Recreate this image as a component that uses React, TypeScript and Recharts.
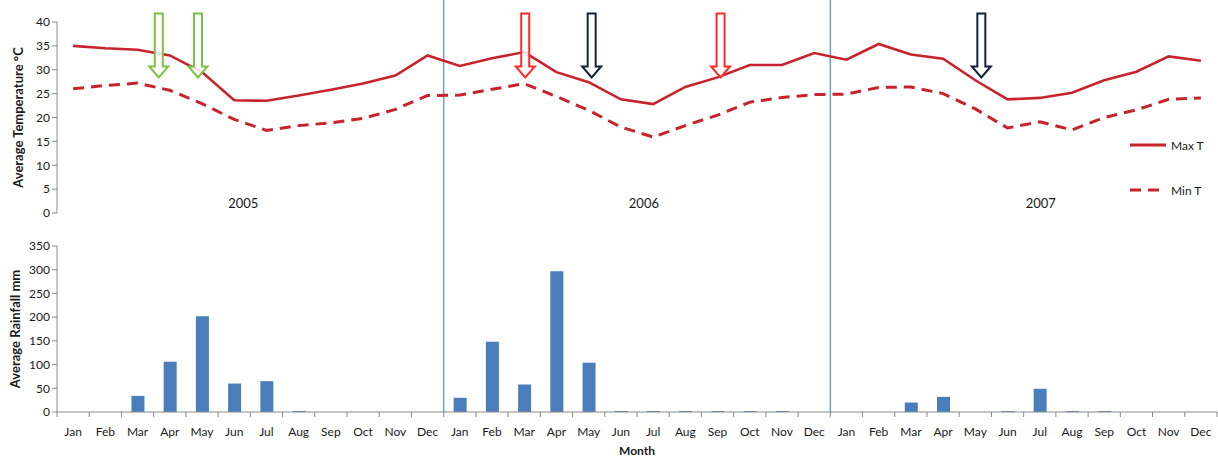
import React from 'react';
import { ComposedChart, Line, Bar, XAxis, YAxis, ReferenceLine, ReferenceDot, Legend } from 'recharts';

const MONTHS = ['Jan', 'Feb', 'Mar', 'Apr', 'May', 'Jun', 'Jul', 'Aug', 'Sep', 'Oct', 'Nov', 'Dec'];
const YEARS = ['2005', '2006', '2007'];

const MAX_T_2005 = [35, 34.5, 34.2, 33, 29.5, 23.6, 23.5, 24.6, 25.8, 27.1, 28.8, 33];
const MIN_T_2005 = [26, 26.7, 27.2, 25.7, 22.9, 19.6, 17.3, 18.3, 18.9, 19.8, 21.7, 24.6];
const MAX_T_2006 = [30.8, 32.4, 33.7, 29.5, 27.4, 23.8, 22.8, 26.4, 28.4, 31, 31, 33.5];
const MIN_T_2006 = [24.7, 25.9, 27.1, 24.4, 21.5, 18, 15.9, 18.3, 20.5, 23.2, 24.2, 24.8];
const MAX_T_2007 = [32.1, 35.4, 33.2, 32.3, 27.8, 23.8, 24.1, 25.2, 27.8, 29.6, 32.8, 31.9];
const MIN_T_2007 = [24.9, 26.3, 26.4, 25, 21.8, 17.8, 19.1, 17.4, 20, 21.6, 23.8, 24.1];

const RAIN_2005 = [0, 0, 34, 106, 202, 60, 65, 2, 0, 0, 0, 0];
const RAIN_2006 = [30, 148, 58, 297, 104, 2, 2, 2, 2, 2, 2, 0];
const RAIN_2007 = [0, 0, 20, 32, 0, 2, 49, 2, 2, 0, 0, 0];

const TEMP_TICKS = [0, 5, 10, 15, 20, 25, 30, 35, 40];
const RAIN_TICKS = [0, 50, 100, 150, 200, 250, 300, 350];

const MAX_T = [MAX_T_2005, MAX_T_2006, MAX_T_2007];
const MIN_T = [MIN_T_2005, MIN_T_2006, MIN_T_2007];
const RAIN = [RAIN_2005, RAIN_2006, RAIN_2007];

const data = YEARS.flatMap((y, yi) =>
  MONTHS.map((m, mi) => ({
    key: `${y}-${m}`,
    month: m,
    maxT: MAX_T[yi][mi],
    minT: MIN_T[yi][mi],
    rain: RAIN[yi][mi],
  }))
);

const YEAR_STARTS = ['2006-Jan', '2007-Jan'];

const GREEN = '#7dc142';
const RED_ARROW = '#ff2b2b';
const NAVY = '#13213d';
const LINE_RED = '#c8232c';
const BAR_BLUE = '#4a7ebb';
const DIVIDER = '#6d9edb';
const AXIS = '#8a8a8a';
const TEXT = '#1a1a1a';

const ARROWS = [
  { at: '2005-Apr', shift: -11, color: GREEN },
  { at: '2005-May', shift: -4, color: GREEN },
  { at: '2006-Mar', shift: 1, color: RED_ARROW },
  { at: '2006-May', shift: 3, color: NAVY },
  { at: '2006-Sep', shift: 3, color: RED_ARROW },
  { at: '2007-May', shift: 6, color: NAVY },
];
const ARROW_TIP = 28.4;

const YEAR_LABELS = [
  { at: '2005-Jun', shift: 9, text: '2005' },
  { at: '2006-Jun', shift: 23, text: '2006' },
  { at: '2007-Jul', shift: 1, text: '2007' },
];
const YEAR_LABEL_Y = 2.1;

const SERIES = [
  { key: 'maxT', name: 'Max T', dash: undefined as string | undefined },
  { key: 'minT', name: 'Min T', dash: '11 7' },
];

const RotLabel = (props: any) => {
  const { viewBox, text, dx = 0 } = props;
  const cx = viewBox.x + dx;
  const cy = viewBox.y + viewBox.height / 2;
  return (
    <text
      x={cx}
      y={cy}
      transform={`rotate(-90 ${cx} ${cy})`}
      textAnchor="middle"
      dominantBaseline="central"
      fontSize={13}
      fontWeight="bold"
      fill={TEXT}
    >
      {text}
    </text>
  );
};

const MonthLabel = (props: any) => {
  const { viewBox } = props;
  return (
    <text
      x={viewBox.x + viewBox.width / 2}
      y={viewBox.y + 43}
      textAnchor="middle"
      fontSize={12}
      fontWeight="bold"
      fill={TEXT}
    >
      Month
    </text>
  );
};

const MonthTick = (props: any) => {
  const { x, y, payload, index } = props;
  const half = payload && payload.offset ? payload.offset : 16.1;
  const month = String(payload.value).split('-')[1];
  return (
    <g>
      <line x1={x - half} y1={y} x2={x - half} y2={y + 5} stroke={AXIS} strokeWidth={1} />
      {index === data.length - 1 && (
        <line x1={x + half} y1={y} x2={x + half} y2={y + 5} stroke={AXIS} strokeWidth={1} />
      )}
      <text x={x} y={y + 24} textAnchor="middle" fontSize={12} fill={TEXT}>
        {month}
      </text>
    </g>
  );
};

const arrowShape = (color: string, shift: number) => (props: any) => {
  const cx = props.cx + shift;
  const cy = props.cy;
  const sw = 4;
  const hw = 9.5;
  const hh = 11;
  const len = 64;
  const d = `M${cx - sw},${cy - len} L${cx + sw},${cy - len} L${cx + sw},${cy - hh} L${cx + hw},${cy - hh} L${cx},${cy} L${cx - hw},${cy - hh} L${cx - sw},${cy - hh} Z`;
  return <path d={d} fill="#ffffff" fillOpacity={0.85} stroke={color} strokeWidth={2} strokeLinejoin="miter" />;
};

const yearShape = (text: string, shift: number) => (props: any) => (
  <text x={props.cx + shift} y={props.cy} textAnchor="middle" dominantBaseline="central" fontSize={13} fill={TEXT}>
    {text}
  </text>
);

const LegendContent = (props: any) => {
  const payload = props.payload || [];
  return (
    <div>
      {payload.map((entry: any, i: number) => {
        const s = SERIES.find((k) => k.key === entry.dataKey) || SERIES[i];
        return (
          <div key={i} style={{ display: 'flex', alignItems: 'center', height: 22, marginBottom: i === 0 ? 23 : 0 }}>
            <svg width={40} height={10} style={{ display: 'block' }}>
              <line x1={2} y1={5} x2={38} y2={5} stroke={LINE_RED} strokeWidth={3} strokeDasharray={s.dash} />
            </svg>
            <span style={{ fontSize: 12, color: TEXT, marginLeft: 3 }}>{entry.value}</span>
          </div>
        );
      })}
    </div>
  );
};

export default function App() {
  return (
    <div
      style={{
        position: 'absolute',
        left: 0,
        top: 0,
        width: 1218,
        height: 457,
        background: '#ffffff',
        fontFamily: "Lato, 'Open Sans', sans-serif",
      }}
    >
      <ComposedChart width={1218} height={230} data={data} margin={{ top: 22, right: 1, left: 20, bottom: 17 }}>
        <XAxis dataKey="key" scale="band" hide interval={0} />
        <YAxis
          domain={[0, 40]}
          ticks={TEMP_TICKS}
          interval={0}
          width={37}
          tickSize={5}
          axisLine={{ stroke: AXIS }}
          tickLine={{ stroke: AXIS }}
          tick={{ fill: TEXT, fontSize: 12 }}
          label={<RotLabel text="Average Temperature °C" dx={-2} />}
        />
        {YEAR_STARTS.map((k) => (
          <ReferenceLine
            key={k}
            segment={[
              { x: k, y: -10 },
              { x: k, y: 50 },
            ]}
            position="start"
            ifOverflow="visible"
            stroke={DIVIDER}
            strokeWidth={1.5}
          />
        ))}
        {SERIES.map((s) => (
          <Line
            key={s.key}
            dataKey={s.key}
            name={s.name}
            type="linear"
            stroke={LINE_RED}
            strokeWidth={s.dash ? 3 : 2.6}
            strokeDasharray={s.dash}
            dot={false}
            activeDot={false}
            isAnimationActive={false}
          />
        ))}
        {YEAR_LABELS.map((l) => (
          <ReferenceDot key={l.text} x={l.at} y={YEAR_LABEL_Y} r={0} ifOverflow="visible" shape={yearShape(l.text, l.shift)} />
        ))}
        {ARROWS.map((a, i) => (
          <ReferenceDot key={i} x={a.at} y={ARROW_TIP} r={0} ifOverflow="visible" shape={arrowShape(a.color, a.shift)} />
        ))}
        <Legend
          layout="horizontal"
          align="center"
          verticalAlign="middle"
          content={<LegendContent />}
          wrapperStyle={{ position: 'absolute', left: 1128, top: 134, width: 90, height: 70 }}
        />
      </ComposedChart>
      <ComposedChart width={1218} height={227} data={data} margin={{ top: 16, right: 1, left: 20, bottom: 0 }} barSize={13}>
        <XAxis
          dataKey="key"
          scale="band"
          interval={0}
          height={45}
          tickLine={false}
          tickSize={0}
          tickMargin={0}
          axisLine={{ stroke: AXIS }}
          tick={<MonthTick />}
          label={<MonthLabel />}
        />
        <YAxis
          domain={[0, 350]}
          ticks={RAIN_TICKS}
          interval={0}
          width={37}
          tickSize={5}
          axisLine={{ stroke: AXIS }}
          tickLine={{ stroke: AXIS }}
          tick={{ fill: TEXT, fontSize: 12 }}
          label={<RotLabel text="Average Rainfall  mm" dx={-5} />}
        />
        {YEAR_STARTS.map((k) => (
          <ReferenceLine
            key={k}
            segment={[
              { x: k, y: 0 },
              { x: k, y: 420 },
            ]}
            position="start"
            ifOverflow="visible"
            stroke={DIVIDER}
            strokeWidth={1.5}
          />
        ))}
        <Bar dataKey="rain" fill={BAR_BLUE} isAnimationActive={false} />
      </ComposedChart>
    </div>
  );
}
